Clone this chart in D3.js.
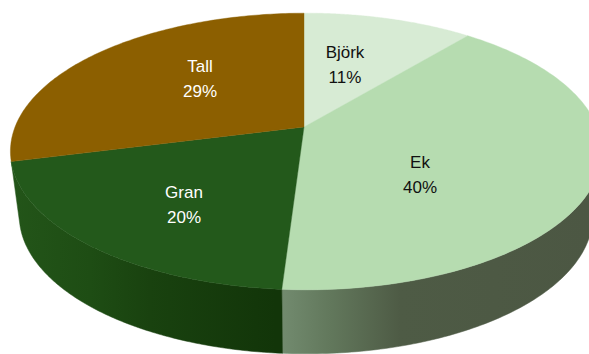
<!DOCTYPE html>
<html>
<head>
<meta charset="utf-8">
<script src="https://cdn.jsdelivr.net/npm/d3@7/dist/d3.min.js"></script>
<style>
  html, body { margin: 0; padding: 0; background: #fff; }
  svg { display: block; }
  text { font-family: "Liberation Sans", Arial, sans-serif; font-size: 17px; }
</style>
</head>
<body>
<svg id="chart" width="589" height="354"></svg>
<script>
// Tree species shares
const species = ["Björk", "Ek", "Gran", "Tall"];
const shares = [11, 40, 20, 29];
const topColours = ["#d7ebd4", "#b6dcb0", "#23591b", "#8c5f00"];
const labelColours = ["#111", "#111", "#fff", "#fff"];
const labelPlacement = [[345, 53], [420, 163], [184, 193], [200, 67]];

const width = 589, height = 354;
const svg = d3.select("#chart");

// Tilted-disc projection: unit-disc coordinates are foreshortened towards the back
const apex = { x: 304, y: 127 };
const radius = 291, squash = 134, tilt = 0.177, skew = 0.007;
const depth = 64, baseShrink = 0.97;

function project(angle, r = 1, lowered = 0, shrink = 1) {
  const X = Math.sin(angle) * r, Y = -Math.cos(angle) * r;
  const w = 1 - tilt * Y - skew * X;
  return [apex.x + radius * shrink * X / w, apex.y + squash * Y / w + lowered];
}

const arcs = d3.pie().sort(null)(shares);
const line = d3.line();
const steps = a => d3.range(0, 121).map(i => a.startAngle + (a.endAngle - a.startAngle) * i / 120);

// Gradients for the rim, which is shaded horizontally
const defs = svg.append("defs");
function rimGradient(id, stops) {
  const g = defs.append("linearGradient").attr("id", id)
    .attr("gradientUnits", "userSpaceOnUse")
    .attr("x1", 0).attr("x2", width).attr("y1", 0).attr("y2", 0);
  stops.forEach(([o, c]) => g.append("stop").attr("offset", o / width).attr("stop-color", c));
}
rimGradient("rim-ek", [[276, "#748d71"], [330, "#62785c"], [400, "#4e5b45"], [589, "#4c5743"]]);
rimGradient("rim-gran", [[10, "#235519"], [90, "#1e4d14"], [150, "#19420f"], [276, "#123509"]]);
const rimFills = { "Ek": "url(#rim-ek)", "Gran": "url(#rim-gran)" };

// Rim of the front-facing slices
const frontFrom = Math.PI / 2 - 0.1;
const frontTo = 1.5 * Math.PI + 0.1;
arcs.forEach((a, i) => {
  const from = Math.max(a.startAngle, frontFrom), to = Math.min(a.endAngle, frontTo);
  if (to <= from || !rimFills[species[i]]) return;
  const span = { startAngle: from, endAngle: to };
  const upper = steps(span).map(t => project(t));
  const lower = steps(span).map(t => project(t, 1, depth, baseShrink)).reverse();
  svg.append("path")
    .attr("d", line(upper.concat(lower)) + "Z")
    .attr("fill", rimFills[species[i]])
    .attr("stroke", rimFills[species[i]])
    .attr("stroke-width", 0.5);
});

// Top surface slices
arcs.forEach((a, i) => {
  const pts = [[apex.x, apex.y]].concat(steps(a).map(t => project(t)));
  svg.append("path")
    .attr("d", line(pts) + "Z")
    .attr("fill", topColours[i])
    .attr("stroke", topColours[i])
    .attr("stroke-width", 0.4);
});

// Two-line slice labels
species.forEach((name, i) => {
  const [lx, ly] = labelPlacement[i];
  const label = svg.append("text")
    .attr("x", lx).attr("y", ly)
    .attr("text-anchor", "middle")
    .attr("fill", labelColours[i]);
  label.append("tspan").attr("x", lx).attr("dy", "0.32em").text(name);
  label.append("tspan").attr("x", lx).attr("dy", "1.47em").text(shares[i] + "%");
});
</script>
</body>
</html>
